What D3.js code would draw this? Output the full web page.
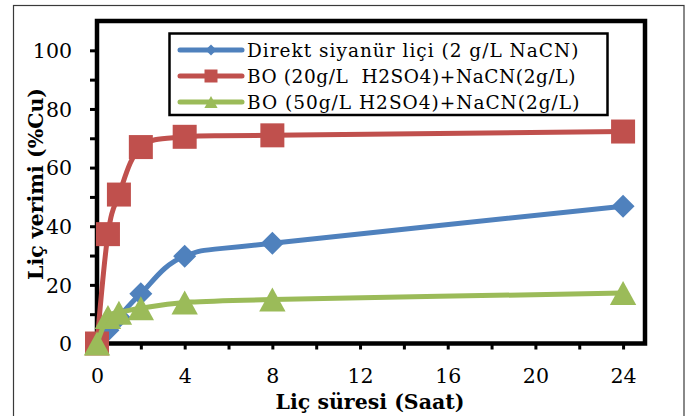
<!DOCTYPE html>
<html>
<head>
<meta charset="utf-8">
<script src="https://cdn.jsdelivr.net/npm/d3@7"></script>
<style>
  html, body { margin: 0; padding: 0; background: #fff; }
  svg { display: block; }
  text.keep { white-space: pre; }
</style>
</head>
<body>
<svg id="chart" width="693" height="416"></svg>
<script>
// ---- Data ----
const hours = [0, 0.5, 1, 2, 4, 8, 24];
const direktValues = [0, 4.5, 9, 17, 29.8, 34.2, 46.8];
const bo20Values = [0, 37.3, 50.8, 67, 70.5, 71, 72.3];
const bo50Values = [0, 9, 10.5, 12, 14, 15, 17.2];
const seriesNames = [
  "Direkt siyanür liçi (2 g/L NaCN)",
  "BO (20g/L  H2SO4)+NaCN(2g/L)",
  "BO (50g/L H2SO4)+NaCN(2g/L)"
];
const seriesColors = ["#4F81BD", "#C0504D", "#9BBB59"];
const seriesMarkers = ["diamond", "square", "triangle"];
const xTickLabels = [0, 4, 8, 12, 16, 20, 24];
const yTickLabels = [0, 20, 40, 60, 80, 100];
const xTitle = "Liç süresi (Saat)";
const yTitle = "Liç verimi (%Cu)";

const series = [direktValues, bo20Values, bo50Values].map((vals, i) => ({
  name: seriesNames[i], color: seriesColors[i], marker: seriesMarkers[i],
  points: hours.map((h, j) => ({x: h, y: vals[j]}))
}));

// ---- Layout ----
const svg = d3.select("#chart");
const L = 97, R = 645, T = 21, B = 343.5;
const x = d3.scaleLinear().domain([0, 25]).range([L, R]);
const y = d3.scaleLinear().domain([0, 110]).range([B, T]);
const serif = "'DejaVu Serif', 'Liberation Serif', serif";

// outer chart frame
svg.append("rect").attr("x", 13.5).attr("y", 5.5).attr("width", 670.5).attr("height", 420)
  .attr("fill", "#fff").attr("stroke", "#3a3a3a").attr("stroke-width", 1.2);

// plot area
svg.append("rect").attr("x", L).attr("y", T).attr("width", R - L).attr("height", B - T)
  .attr("fill", "#fff");

// axes with minor ticks
const xAxis = d3.axisBottom(x).tickValues(d3.range(0, 25, 2)).tickSize(6)
  .tickFormat(d => xTickLabels.includes(d) ? d : "");
const gx = svg.append("g").attr("transform", `translate(0,${B})`).call(xAxis);
gx.select(".domain").remove();
gx.selectAll(".tick line").attr("stroke", "#000").attr("stroke-width", 3);
gx.selectAll(".tick text").attr("font-family", serif).attr("font-size", 20.5)
  .attr("fill", "#000").attr("y", 0).attr("dy", 0)
  .attr("transform", "translate(0,39)");

const yAxis = d3.axisLeft(y).tickValues(d3.range(0, 110, 10)).tickSize(7)
  .tickFormat(d => yTickLabels.includes(d) ? d : "");
const gy = svg.append("g").attr("transform", `translate(${L},0)`).call(yAxis);
gy.select(".domain").remove();
gy.selectAll(".tick line").attr("stroke", "#000").attr("stroke-width", 3);
gy.selectAll(".tick text").attr("font-family", serif).attr("font-size", 20.5)
  .attr("fill", "#000").attr("x", -25).attr("dy", "0.36em");

// plot border (thick)
svg.append("rect").attr("x", L).attr("y", T).attr("width", R - L).attr("height", B - T)
  .attr("fill", "none").attr("stroke", "#000").attr("stroke-width", 4.5);

// ---- Series ----
const line = d3.line().x(d => x(d.x)).y(d => y(d.y)).curve(d3.curveCardinal.tension(0));

function markerPath(type, s) {
  if (type === "diamond") return `M0,${-s}L${s},0L0,${s}L${-s},0Z`;
  if (type === "square") return `M${-s},${-s}H${s}V${s}H${-s}Z`;
  return `M0,${-s}L${s * 1.1},${s}L${-s * 1.1},${s}Z`;
}
const markerSize = {diamond: 11.5, square: 12, triangle: 12};

const plotG = svg.append("g");
series.forEach(sr => {
  const g = plotG.append("g");
  g.append("path").datum(sr.points).attr("d", line)
    .attr("fill", "none").attr("stroke", sr.color).attr("stroke-width", 5)
    .attr("stroke-linecap", "round").attr("stroke-linejoin", "round");
  g.selectAll("path.m").data(sr.points).join("path").attr("class", "m")
    .attr("transform", d => `translate(${x(d.x)},${y(d.y)})`)
    .attr("d", markerPath(sr.marker, markerSize[sr.marker]))
    .attr("fill", sr.color);
});

// ---- Legend ----
const lg = svg.append("g");
lg.append("rect").attr("x", 169.5).attr("y", 33.5).attr("width", 438).attr("height", 81.5)
  .attr("fill", "#fff").attr("stroke", "#000").attr("stroke-width", 2.5);
const rowY = [50, 76, 102];
const legMark = {diamond: 5.5, square: 6.5, triangle: 6};
series.forEach((sr, i) => {
  const cy = rowY[i];
  lg.append("line").attr("x1", 180).attr("x2", 242).attr("y1", cy).attr("y2", cy)
    .attr("stroke", sr.color).attr("stroke-width", 5).attr("stroke-linecap", "round");
  lg.append("path").attr("transform", `translate(211,${cy})`)
    .attr("d", markerPath(sr.marker, legMark[sr.marker])).attr("fill", sr.color);
  lg.append("text").attr("class", "keep").attr("x", 247).attr("y", cy + 6.5)
    .attr("font-family", serif).attr("font-size", 18.5)
    .attr("letter-spacing", i === 1 ? 0.6 : 1)
    .attr("fill", "#000").text(sr.name);
});

// ---- Axis titles ----
svg.append("text").attr("x", 370).attr("y", 409).attr("text-anchor", "middle")
  .attr("font-family", serif).attr("font-weight", "bold").attr("font-size", 20.5)
  .attr("fill", "#000").text(xTitle);
svg.append("text").attr("transform", "translate(43,184) rotate(-90)").attr("text-anchor", "middle")
  .attr("font-family", serif).attr("font-weight", "bold").attr("font-size", 20.5)
  .attr("fill", "#000").text(yTitle);
</script>
</body>
</html>
